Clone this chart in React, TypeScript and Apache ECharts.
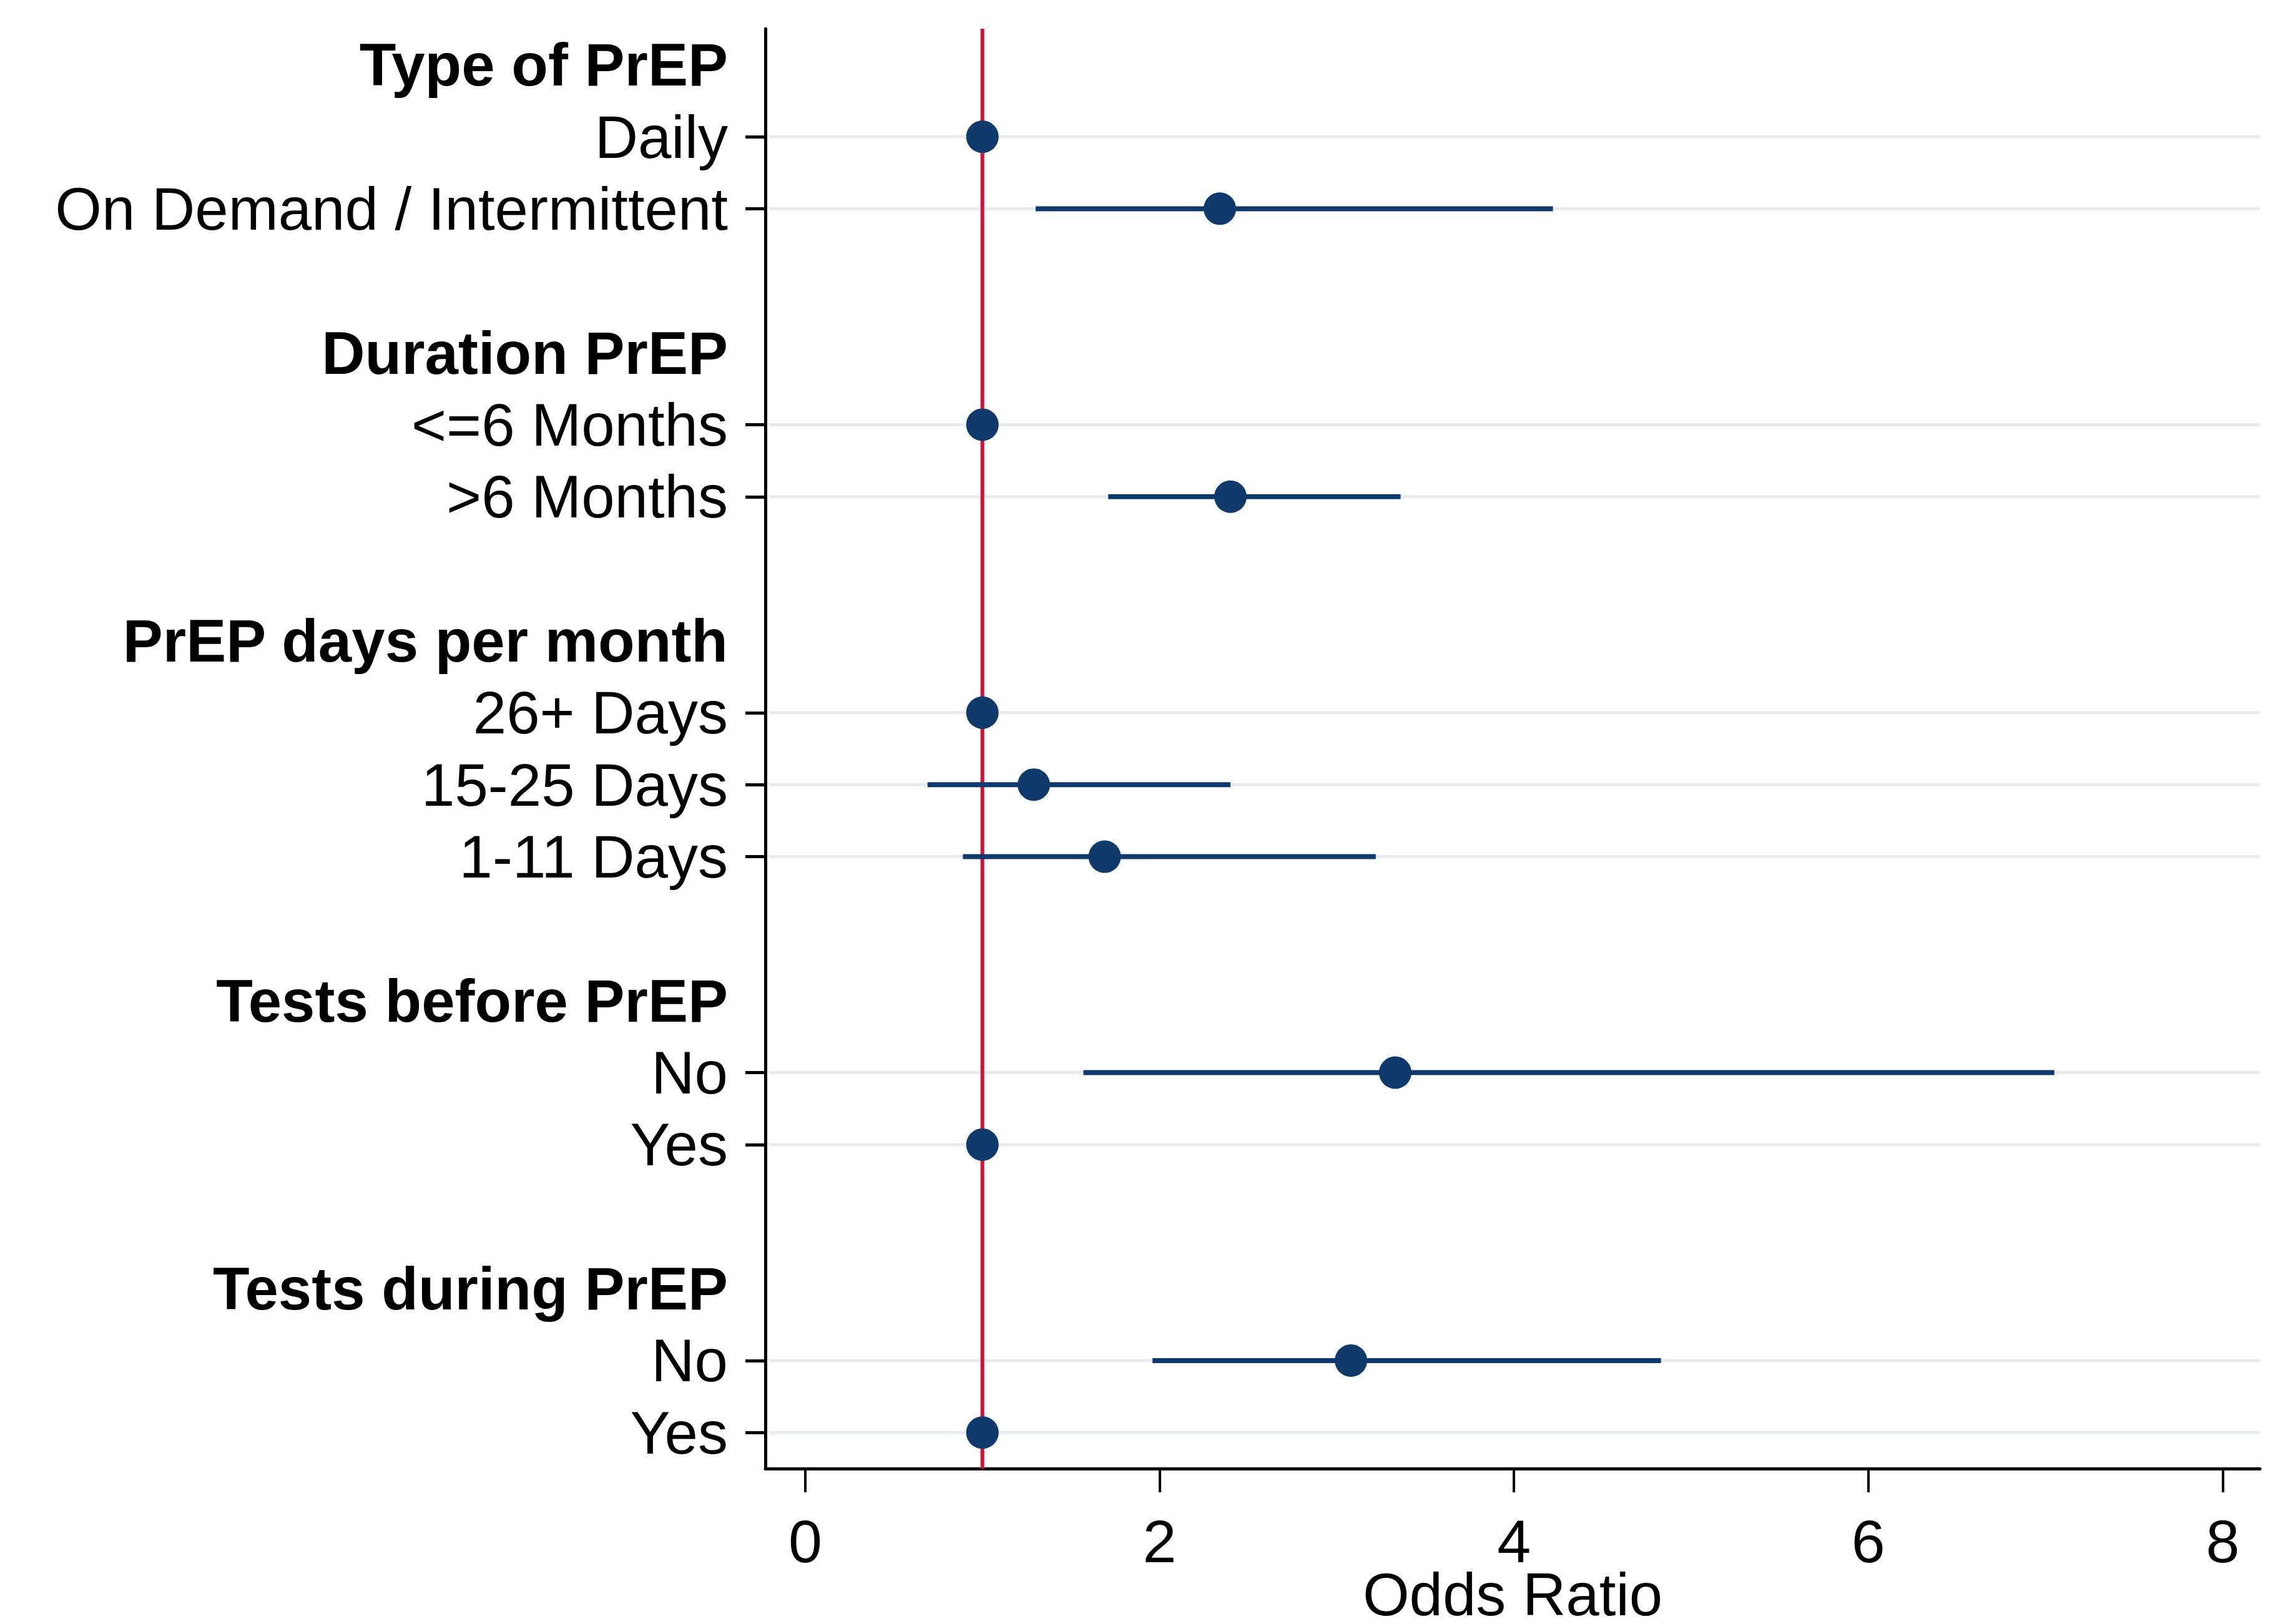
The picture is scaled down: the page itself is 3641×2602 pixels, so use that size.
import React, { useEffect, useRef } from "react";
import * as echarts from "echarts";

const groupTitles = [
  "Type of PrEP",
  "Duration PrEP",
  "PrEP days per month",
  "Tests before PrEP",
  "Tests during PrEP",
];
const groupLevels = [
  ["Daily", "On Demand / Intermittent"],
  ["<=6 Months", ">6 Months"],
  ["26+ Days", "15-25 Days", "1-11 Days"],
  ["No", "Yes"],
  ["No", "Yes"],
];
const oddsRatios = [
  [1, 2.34],
  [1, 2.4],
  [1, 1.29, 1.69],
  [3.33, 1],
  [3.08, 1],
];
const ciLower = [
  [null, 1.3],
  [null, 1.71],
  [null, 0.69, 0.89],
  [1.57, null],
  [1.96, null],
];
const ciUpper = [
  [null, 4.22],
  [null, 3.36],
  [null, 2.4, 3.22],
  [7.05, null],
  [4.83, null],
];
const xTicks = [0, 2, 4, 6, 8];
const referenceValue = 1;
const xTitle = "Odds Ratio";

type Row = {
  idx: number;
  label: string;
  header: boolean;
  blank: boolean;
  or?: number;
  lo?: number | null;
  hi?: number | null;
};

function buildRows(): Row[] {
  const rows: Row[] = [];
  groupTitles.forEach((title, g) => {
    rows.push({ idx: rows.length, label: title, header: true, blank: false });
    groupLevels[g].forEach((lv, i) => {
      rows.push({
        idx: rows.length,
        label: lv,
        header: false,
        blank: false,
        or: oddsRatios[g][i],
        lo: ciLower[g][i],
        hi: ciUpper[g][i],
      });
    });
    if (g < groupTitles.length - 1) {
      rows.push({ idx: rows.length, label: "", header: false, blank: true });
    }
  });
  return rows;
}

const NAVY = "#0f3a6b";
const RED = "#cf1239";
const GRID = "#e8ebee";
const FONT = "Liberation Sans, Arial, Helvetica, sans-serif";
const LABEL_SIZE = 96;

export default function App() {
  const ref = useRef<HTMLDivElement>(null);

  useEffect(() => {
    if (!ref.current) return;
    const chart = echarts.init(ref.current, undefined, { renderer: "svg" });
    const rows = buildRows();
    const dataRows = rows.filter((r) => !r.header && !r.blank);
    const labelRows = rows.filter((r) => !r.blank);
    const yMin = -0.5;
    const yMax = rows.length - 0.5;

    const option: any = {
      animation: false,
      backgroundColor: "#ffffff",
      grid: {
        left: 1226,
        right: 21,
        top: 46,
        bottom: 249,
        containLabel: false,
        outerBoundsMode: "none",
      },
      xAxis: {
        type: "value",
        min: -0.225,
        max: 8.21,
        axisLine: { show: true, onZero: false, lineStyle: { color: "#000", width: 5 } },
        axisTick: {
          show: true,
          customValues: xTicks,
          length: 38,
          lineStyle: { color: "#000", width: 4 },
        },
        axisLabel: {
          customValues: xTicks,
          margin: 76,
          fontSize: 97,
          lineHeight: 80,
          color: "#000",
          fontFamily: FONT,
        },
        splitLine: { show: false },
        name: xTitle,
        nameLocation: "middle",
        nameGap: 161,
        nameMoveOverlap: false,
        nameTextStyle: { fontSize: 96, lineHeight: 80, color: "#000", fontFamily: FONT },
      },
      yAxis: {
        type: "value",
        min: yMin,
        max: yMax,
        inverse: true,
        axisLine: { show: true, onZero: false, lineStyle: { color: "#000", width: 5 } },
        axisTick: {
          show: true,
          customValues: dataRows.map((r) => r.idx),
          length: 32,
          lineStyle: { color: "#000", width: 5 },
        },
        axisLabel: {
          customValues: labelRows.map((r) => r.idx),
          margin: 60,
          color: "#000",
          fontSize: LABEL_SIZE,
          fontFamily: FONT,
          formatter: (v: number) => {
            const r = rows[Math.round(v)];
            if (!r) return "";
            return r.header ? `{h|${r.label}}` : `{n|${r.label}}`;
          },
          rich: {
            h: { fontSize: LABEL_SIZE, fontWeight: "bold", color: "#000", fontFamily: FONT },
            n: { fontSize: LABEL_SIZE, color: "#000", fontFamily: FONT },
          },
        },
        splitLine: { show: false },
      },
      series: [
        {
          type: "custom",
          name: "gridlines",
          z: 1,
          silent: true,
          encode: { x: 0, y: 1 },
          data: dataRows.map((r) => [0, r.idx]),
          renderItem: (params: any, api: any) => {
            const cs = params.coordSys;
            const y = api.coord([0, api.value(1)])[1];
            return {
              type: "line",
              shape: { x1: cs.x + 6, y1: y, x2: cs.x + cs.width, y2: y },
              style: { stroke: GRID, lineWidth: 5 },
            };
          },
        },
        {
          type: "line",
          name: "reference",
          z: 2,
          silent: true,
          symbol: "none",
          lineStyle: { color: RED, width: 6 },
          data: [
            [referenceValue, yMin],
            [referenceValue, yMax],
          ],
        },
        {
          type: "custom",
          name: "ci",
          z: 3,
          encode: { x: [0, 1], y: 2 },
          data: dataRows
            .filter((r) => r.lo != null && r.hi != null)
            .map((r) => [r.lo, r.hi, r.idx]),
          renderItem: (params: any, api: any) => {
            const p1 = api.coord([api.value(0), api.value(2)]);
            const p2 = api.coord([api.value(1), api.value(2)]);
            return {
              type: "line",
              shape: { x1: p1[0], y1: p1[1], x2: p2[0], y2: p2[1] },
              style: { stroke: NAVY, lineWidth: 8 },
            };
          },
        },
        {
          type: "scatter",
          name: "or",
          z: 4,
          symbol: "circle",
          symbolSize: 52,
          itemStyle: { color: NAVY, opacity: 1 },
          data: dataRows.map((r) => [r.or, r.idx]),
        },
      ],
    };

    chart.setOption(option);
    return () => chart.dispose();
  }, []);

  return (
    <div
      ref={ref}
      style={{ position: "fixed", left: 0, top: 0, width: 3641, height: 2602, background: "#fff" }}
    />
  );
}
